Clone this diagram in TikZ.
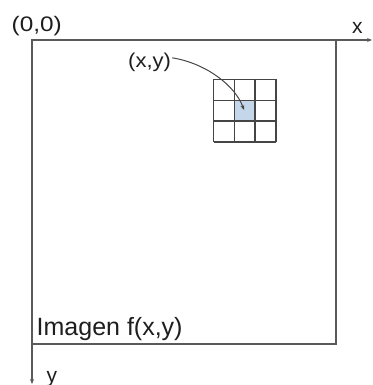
\documentclass[tikz,border=0pt]{standalone}
\usepackage{fontspec}
\setmainfont{Liberation Sans}
\usetikzlibrary{arrows.meta}
\definecolor{linegray}{HTML}{5A5A5A}
\definecolor{gridgray}{HTML}{454545}
\definecolor{cellblue}{HTML}{C4D7EA}
\definecolor{txt}{HTML}{1E1E1E}
\begin{document}
\begin{tikzpicture}[x=1pt,y=-1pt,
  frame/.style={draw=linegray, line width=1.3pt},
  axis/.style={draw=linegray, line width=1.2pt, -{Stealth[length=5pt,width=4pt]}},
  gridline/.style={draw=gridgray, line width=1.3pt},
  connector/.style={draw=gridgray, line width=1pt, -{Stealth[length=5pt,width=4pt]}},
  lbl/.style={inner sep=0pt, text=txt, anchor=base west}]
\useasboundingbox (0,0) rectangle (372,385);
\coordinate (O) at (32,40);
\coordinate (XE) at (372,40);
\coordinate (YE) at (32,384);
\fill[cellblue] (234.3,100.3) rectangle (255.1,121.1);
\foreach \i in {0,...,3} {
  \draw[gridline] (213.5+20.8*\i,79.5) -- (213.5+20.8*\i,141.9);
  \draw[gridline] (213.5,79.5+20.8*\i) -- (275.9,79.5+20.8*\i);
}
\coordinate (cc) at (244,110);
\draw[frame] (O) rectangle (336,344);
\draw[axis] (O) -- (XE);
\draw[axis] (O) -- (YE);
\node[lbl, font=\fontsize{21}{25}\selectfont, xscale=1.16] (origin) at (11.5,32) {(0,0)};
\node[lbl, font=\fontsize{25}{30}\selectfont] (imglbl) at (36.5,335) {Imagen f(x,y)};
\node[lbl, font=\fontsize{20}{24}\selectfont, xscale=1.1] (xylbl) at (128,68) {(x,y)};
\node[lbl, font=\fontsize{21}{25}\selectfont] (xlbl) at (352,33.5) {x};
\node[lbl, font=\fontsize{21}{25}\selectfont] (ylbl) at (46.5,382) {y};
\draw[connector] (xylbl.east) ++(1,-5) coordinate (cs) .. controls (205,63) and (235,85) .. (cc);
\end{tikzpicture}
\end{document}
